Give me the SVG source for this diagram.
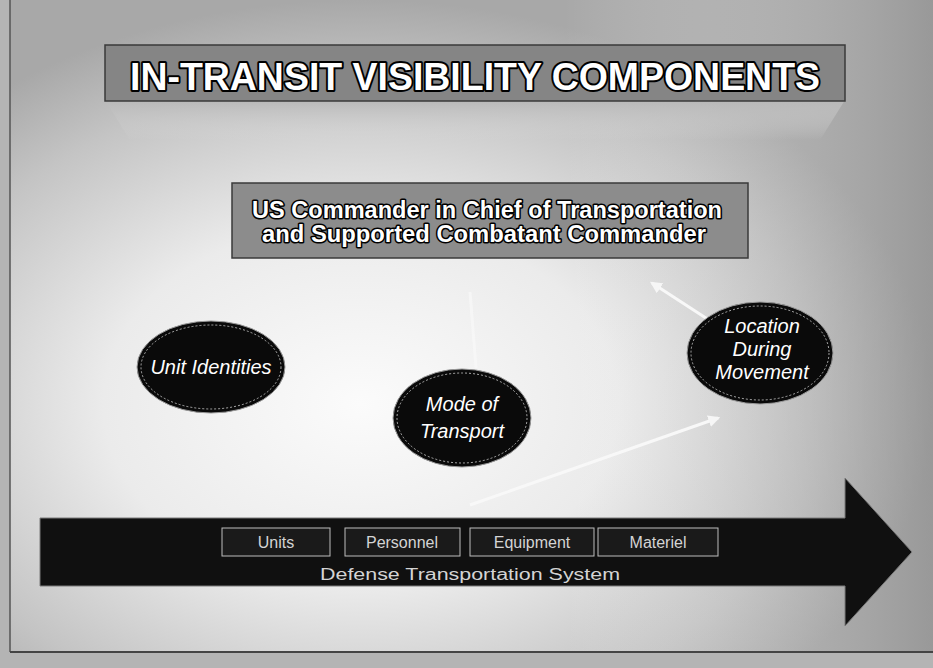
<svg xmlns="http://www.w3.org/2000/svg" width="933" height="668" viewBox="0 0 933 668">
<defs>
<radialGradient id="bg" cx="0.38" cy="0.62" r="0.62">
<stop offset="0" stop-color="#fbfbfb"/>
<stop offset="0.45" stop-color="#ebebeb"/>
<stop offset="0.8" stop-color="#c4c4c4"/>
<stop offset="1" stop-color="#a8a8a8"/>
</radialGradient>
<linearGradient id="shade" x1="0" y1="0" x2="1" y2="0">
<stop offset="0" stop-color="#ffffff" stop-opacity="0"/>
<stop offset="0.6" stop-color="#ffffff" stop-opacity="0"/>
<stop offset="1" stop-color="#8e8e8e" stop-opacity="0.6"/>
</linearGradient>
<linearGradient id="trap" x1="0" y1="0" x2="0" y2="1">
<stop offset="0" stop-color="#b8b8b8"/>
<stop offset="1" stop-color="#d8d8d8" stop-opacity="0"/>
</linearGradient>
<marker id="ah" viewBox="0 0 10 10" refX="8" refY="5" markerWidth="4" markerHeight="4" orient="auto">
<path d="M0,0 L10,5 L0,10 z" fill="#f6f6f6"/>
</marker>
<style>
.ttl{font-family:"Liberation Sans",Arial,sans-serif;font-weight:bold;fill:#ffffff;stroke:#000000;paint-order:stroke;stroke-linejoin:round;}
.oval{fill:#0a0a0a;stroke:#9a9a9a;stroke-width:1;}
.ring{fill:none;stroke:#cfcfcf;stroke-width:0.8;stroke-dasharray:2 2;}
.otxt{font-family:"Liberation Sans",Arial,sans-serif;font-style:italic;fill:#ffffff;font-size:20px;text-anchor:middle;}
.cell{fill:#1a1a1a;stroke:#bdbdbd;stroke-width:1;}
.ctxt{font-family:"Liberation Sans",Arial,sans-serif;fill:#d4d4d4;font-size:16px;text-anchor:middle;}
.beam{stroke:#f8f8f8;stroke-width:3;fill:none;}
</style>
</defs>
<rect x="0" y="0" width="933" height="668" fill="#b4b4b4"/>
<rect x="10" y="0" width="923" height="652" fill="url(#bg)"/>
<rect x="10" y="0" width="923" height="652" fill="url(#shade)"/>
<line x1="10" y1="0" x2="10" y2="652" stroke="#555" stroke-width="1.5"/>
<line x1="10" y1="652" x2="933" y2="652" stroke="#444" stroke-width="2"/>

<polygon points="105,100 845,100 820,140 130,140" fill="url(#trap)"/>

<g id="title">
<rect x="105" y="45" width="740" height="56" fill="#858585" stroke="#3a3a3a" stroke-width="1.5"/>
<text class="ttl" x="475" y="90" font-size="38" stroke-width="4" text-anchor="middle" textLength="690" lengthAdjust="spacingAndGlyphs">IN-TRANSIT VISIBILITY COMPONENTS</text>
</g>

<g id="commander">
<rect x="232" y="183" width="516" height="75" fill="#8c8c8c" stroke="#3a3a3a" stroke-width="1.5"/>
<text class="ttl" x="487" y="218" font-size="23" stroke-width="3" text-anchor="middle" textLength="470" lengthAdjust="spacingAndGlyphs">US Commander in Chief of Transportation</text>
<text class="ttl" x="484" y="242" font-size="23" stroke-width="3" text-anchor="middle" textLength="444" lengthAdjust="spacingAndGlyphs">and Supported Combatant Commander</text>
</g>

<g id="connectors">
<line class="beam" x1="470" y1="505" x2="718" y2="418" marker-end="url(#ah)"/>
<line class="beam" x1="712" y1="322" x2="652" y2="283" marker-end="url(#ah)" stroke-width="2.5"/>
<line class="beam" x1="476" y1="368" x2="470" y2="292" stroke-width="4" opacity="0.8"/>
</g>

<g id="unit-identities">
<ellipse class="oval" cx="211" cy="367" rx="74" ry="46"/>
<ellipse class="ring" cx="211" cy="367" rx="70" ry="42"/>
<text class="otxt" x="211" y="374">Unit Identities</text>
</g>

<g id="mode-of-transport">
<ellipse class="oval" cx="462" cy="418" rx="69" ry="49"/>
<ellipse class="ring" cx="462" cy="418" rx="65" ry="45"/>
<text class="otxt" x="462" y="411">Mode of</text>
<text class="otxt" x="462" y="438">Transport</text>
</g>

<g id="location">
<ellipse class="oval" cx="760" cy="353" rx="73" ry="51"/>
<ellipse class="ring" cx="760" cy="353" rx="69" ry="47"/>
<text class="otxt" x="762" y="333">Location</text>
<text class="otxt" x="762" y="356">During</text>
<text class="otxt" x="762" y="379">Movement</text>
</g>

<g id="dts-arrow">
<polygon points="40,518 845,518 845,478 912,552 845,626 845,586 40,586" fill="#101010" stroke="#7a7a7a" stroke-width="1"/>
<rect x="222" y="528" width="108" height="28" class="cell"/>
<rect x="345" y="528" width="115" height="28" class="cell"/>
<rect x="470" y="528" width="124" height="28" class="cell"/>
<rect x="598" y="528" width="120" height="28" class="cell"/>
<text class="ctxt" x="276" y="548">Units</text>
<text class="ctxt" x="402" y="548">Personnel</text>
<text class="ctxt" x="532" y="548">Equipment</text>
<text class="ctxt" x="658" y="548">Materiel</text>
<text class="ctxt" x="470" y="580" font-size="18" textLength="300" lengthAdjust="spacingAndGlyphs">Defense Transportation System</text>
</g>
</svg>
